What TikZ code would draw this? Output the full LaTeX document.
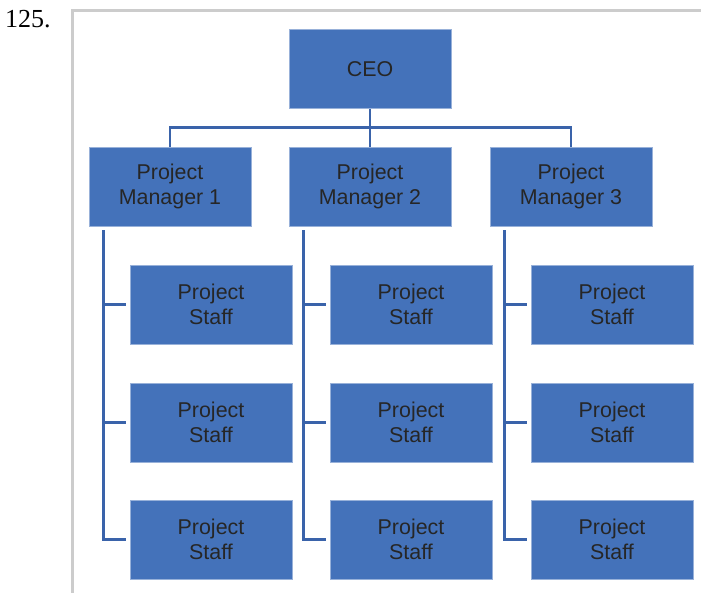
\documentclass[tikz,border=0pt]{standalone}
\usepackage{fontspec}
\setmainfont{Liberation Serif}
\newfontfamily\boxfont{Liberation Sans}
\usetikzlibrary{calc,positioning}
\definecolor{boxc}{RGB}{68,114,186}
\definecolor{linkc}{RGB}{58,99,170}
\definecolor{framec}{RGB}{204,204,204}

\begin{document}
\begin{tikzpicture}[x=1pt,y=-1pt,
  orgbox/.style={draw=boxc!55!white,line width=0.6pt,fill=boxc,minimum width=162pt,minimum height=79pt,
    align=center,text=black!85,font=\boxfont\fontsize{21.4}{25.5}\selectfont},
  link/.style={linkc,line width=2.6pt}]
  \useasboundingbox (0,0) rectangle (701,593);
  \draw[framec,line width=3pt] (72,593) -- (72,11) -- (701,11);
  \node[anchor=north west,inner sep=0pt,font=\fontsize{26}{30}\selectfont] (num) at (5,10) {125.};
  \node[orgbox] (ceo) at (370,69) {CEO};
  % managers and their staff
  \foreach \i/\x in {1/170,2/370,3/571} {
    \node[orgbox] (pm\i) at (\x,186.5) {Project\\Manager \i};
    \foreach \j/\y in {1/304.5,2/422.5,3/539.5}
      \node[orgbox] (st\i\j) at (\x+41,\y) {Project\\Staff};
    \coordinate (sp\i) at ($(pm\i.south west)+(14.5,4)$);
    \draw[link] (sp\i) |- ([xshift=-4pt]st\i3.west);
    \foreach \j in {1,2}
      \draw[link] (st\i\j.west -| sp\i) -- ([xshift=-4pt]st\i\j.west);
  }
  % ceo to managers
  \draw[link] (ceo.south) -- ++(0,19) coordinate (bus);
  \draw[link] (pm1.north) |- (bus) -| (pm3.north);
  \draw[link] (bus) -- (pm2.north);
\end{tikzpicture}
\end{document}
